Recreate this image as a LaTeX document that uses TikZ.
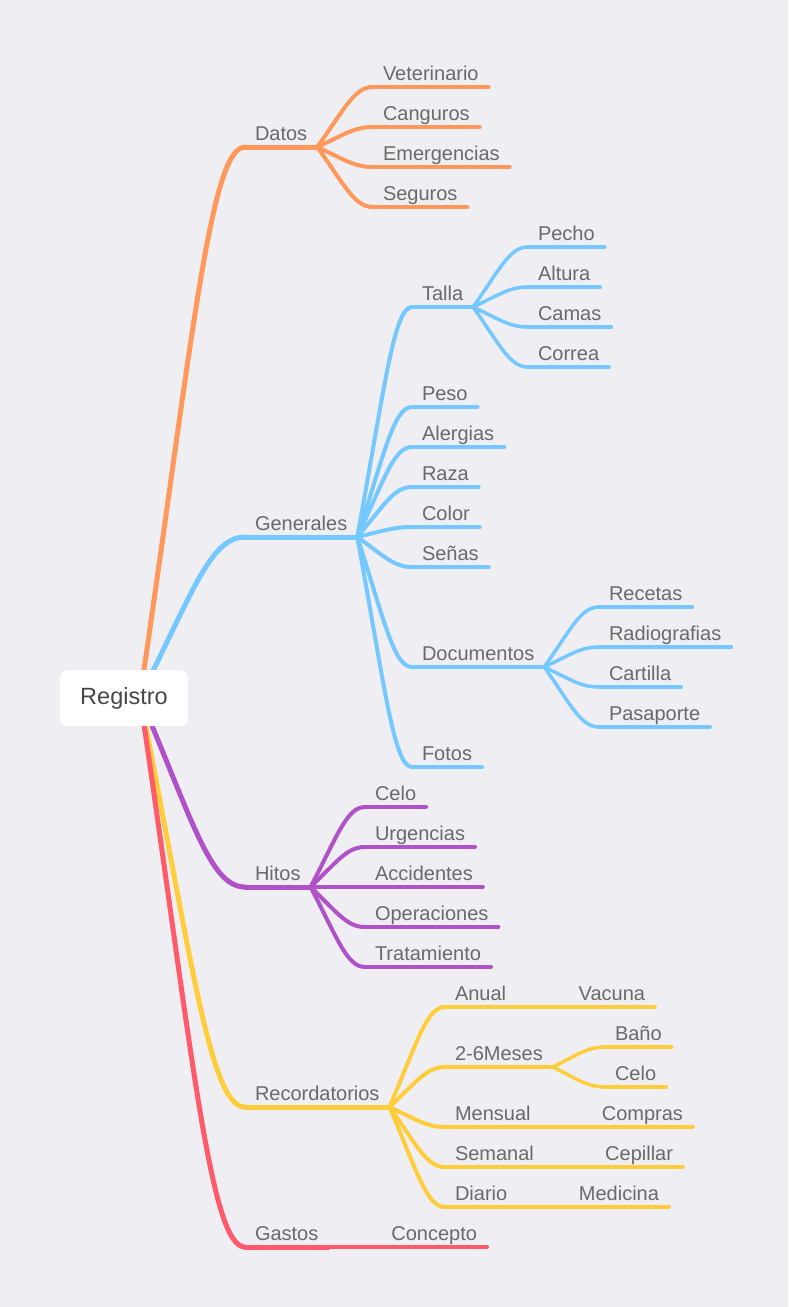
\documentclass[tikz,border=0pt]{standalone}
\usepackage{fontspec}
\setmainfont{Liberation Sans}
\usetikzlibrary{calc}

\definecolor{bgcol}{HTML}{EEEEF3}
\definecolor{txtgrey}{HTML}{6A6A6A}
\definecolor{rootgrey}{HTML}{474747}
\definecolor{cDat}{HTML}{FF985A}
\definecolor{cGen}{HTML}{75C8FF}
\definecolor{cHit}{HTML}{AF52C8}
\definecolor{cRec}{HTML}{FFCD3C}
\definecolor{cGas}{HTML}{FF5A69}

\tikzset{
  topic/.style={anchor=south west, inner xsep=10pt, inner ysep=3pt, outer sep=0pt,
    text depth=4pt, text=txtgrey, font=\fontsize{20}{24}\selectfont},
  leaf/.style={topic, anchor=south east},
  root/.style={fill=white, rounded corners=8pt, minimum width=128pt, minimum height=56pt,
    inner sep=0pt, text=rootgrey, font=\fontsize{23.5}{28}\selectfont},
  branch/.style={to path={let \p1=(\tikztostart), \p2=(\tikztotarget) in
    .. controls ({\x1+0.5*(\x2-\x1)},{\y1+0.65*(\y2-\y1)})
       and ({\x2-0.33*(\x2-\x1)},\y2) .. (\tikztotarget)}},
  lv1/.style={line width=5pt, line cap=round},
  lv2/.style={line width=4pt, line cap=round},
  lv3/.style={line width=3.5pt, line cap=round}
}

\begin{document}
\begin{tikzpicture}[x=1pt, y=-1pt]

\fill[bgcol] (0,0) rectangle (788,1307);
\useasboundingbox (0,0) rectangle (788,1307);

\coordinate (hub) at (140,697);

% main topics
\node[topic] (datos) at (245,147) {Datos};
\node[topic] (gen) at (245,537) {Generales};
\node[topic] (hitos) at (245,887) {Hitos};
\node[topic] (recor) at (245,1107) {Recordatorios};
\node[topic] (gastos) at (245,1247) {Gastos};

% Datos
\node[topic] (vet) at (373,87) {Veterinario};
\node[topic] (cang) at (373,127) {Canguros};
\node[topic] (emer) at (373,167) {Emergencias};
\node[topic] (seg) at (373,207) {Seguros};

% Generales
\node[topic] (talla) at (412,307) {Talla};
\node[topic] (peso) at (412,407) {Peso};
\node[topic] (alerg) at (412,447) {Alergias};
\node[topic] (raza) at (412,487) {Raza};
\node[topic] (color) at (412,527) {Color};
\node[topic] (senas) at (412,567) {Señas};
\node[topic] (docs) at (412,667) {Documentos};
\node[topic] (fotos) at (412,767) {Fotos};

\node[topic] (pecho) at (528,247) {Pecho};
\node[topic] (altura) at (528,287) {Altura};
\node[topic] (camas) at (528,327) {Camas};
\node[topic] (correa) at (528,367) {Correa};

\node[topic] (recetas) at (599,607) {Recetas};
\node[topic] (radio) at (599,647) {Radiografias};
\node[topic] (cartilla) at (599,687) {Cartilla};
\node[topic] (pasap) at (599,727) {Pasaporte};

% Hitos
\node[topic] (celo) at (365,807) {Celo};
\node[topic] (urg) at (365,847) {Urgencias};
\node[topic] (acc) at (365,887) {Accidentes};
\node[topic] (oper) at (365,927) {Operaciones};
\node[topic] (trat) at (365,967) {Tratamiento};

% Recordatorios
\node[topic] (anual) at (445,1007) {Anual};
\node[topic] (meses) at (445,1067) {2-6Meses};
\node[topic] (mens) at (445,1127) {Mensual};
\node[topic] (seman) at (445,1167) {Semanal};
\node[topic] (diario) at (445,1207) {Diario};

\node[leaf] (vacuna) at (655,1007) {Vacuna};
\node[topic] (bano) at (605,1047) {Baño};
\node[topic] (celob) at (605,1087) {Celo};
\node[leaf] (compras) at (693,1127) {Compras};
\node[leaf] (cepillar) at (683,1167) {Cepillar};
\node[leaf] (medicina) at (669,1207) {Medicina};

% Gastos
\node[leaf] (concepto) at (487,1247) {Concepto};

% connectors
\path[cDat, lv1] (hub) edge[branch] (datos.south west)
                 (datos.south west) edge (datos.south east);
\path[cGen, lv1] (hub) edge[branch] (gen.south west)
                 (gen.south west) edge (gen.south east);
\path[cHit, lv1] (hub) edge[branch] (hitos.south west)
                 (hitos.south west) edge (hitos.south east);
\path[cRec, lv1] (hub) edge[branch] (recor.south west)
                 (recor.south west) edge (recor.south east);
\path[cGas, lv1] (hub) edge[branch] (gastos.south west)
                 (gastos.south west) edge (gastos.south east);

\path[cDat, lv2] (datos.south east) edge[branch] (vet.south west)
                                    edge[branch] (cang.south west)
                                    edge[branch] (emer.south west)
                                    edge[branch] (seg.south west)
                 (vet.south west) edge (vet.south east)
                 (cang.south west) edge (cang.south east)
                 (emer.south west) edge (emer.south east)
                 (seg.south west) edge (seg.south east);

\path[cGen, lv2] (gen.south east) edge[branch] (talla.south west)
                                  edge[branch] (peso.south west)
                                  edge[branch] (alerg.south west)
                                  edge[branch] (raza.south west)
                                  edge[branch] (color.south west)
                                  edge[branch] (senas.south west)
                                  edge[branch] (docs.south west)
                                  edge[branch] (fotos.south west)
                 (talla.south west) edge (talla.south east)
                 (peso.south west) edge (peso.south east)
                 (alerg.south west) edge (alerg.south east)
                 (raza.south west) edge (raza.south east)
                 (color.south west) edge (color.south east)
                 (senas.south west) edge (senas.south east)
                 (docs.south west) edge (docs.south east)
                 (fotos.south west) edge (fotos.south east);

\path[cGen, lv3] (talla.south east) edge[branch] (pecho.south west)
                                    edge[branch] (altura.south west)
                                    edge[branch] (camas.south west)
                                    edge[branch] (correa.south west)
                 (pecho.south west) edge (pecho.south east)
                 (altura.south west) edge (altura.south east)
                 (camas.south west) edge (camas.south east)
                 (correa.south west) edge (correa.south east)
                 (docs.south east) edge[branch] (recetas.south west)
                                   edge[branch] (radio.south west)
                                   edge[branch] (cartilla.south west)
                                   edge[branch] (pasap.south west)
                 (recetas.south west) edge (recetas.south east)
                 (radio.south west) edge (radio.south east)
                 (cartilla.south west) edge (cartilla.south east)
                 (pasap.south west) edge (pasap.south east);

\path[cHit, lv2] (hitos.south east) edge[branch] (celo.south west)
                                    edge[branch] (urg.south west)
                                    edge[branch] (acc.south west)
                                    edge[branch] (oper.south west)
                                    edge[branch] (trat.south west)
                 (celo.south west) edge (celo.south east)
                 (urg.south west) edge (urg.south east)
                 (acc.south west) edge (acc.south east)
                 (oper.south west) edge (oper.south east)
                 (trat.south west) edge (trat.south east);

\path[cRec, lv2] (recor.south east) edge[branch] (anual.south west)
                                    edge[branch] (meses.south west)
                                    edge[branch] (mens.south west)
                                    edge[branch] (seman.south west)
                                    edge[branch] (diario.south west)
                 (anual.south west) edge (anual.south east)
                 (meses.south west) edge (meses.south east)
                 (mens.south west) edge (mens.south east)
                 (seman.south west) edge (seman.south east)
                 (diario.south west) edge (diario.south east);

\path[cRec, lv3] (anual.south east) edge (vacuna.south east)
                 (meses.south east) edge[branch] (bano.south west)
                                    edge[branch] (celob.south west)
                 (bano.south west) edge (bano.south east)
                 (celob.south west) edge (celob.south east)
                 (mens.south east) edge (compras.south east)
                 (seman.south east) edge (cepillar.south east)
                 (diario.south east) edge (medicina.south east);

\path[cGas, lv2] (gastos.south east) edge (concepto.south east);

\node[root] (reg) at (124,698) {Registro};

\end{tikzpicture}
\end{document}
